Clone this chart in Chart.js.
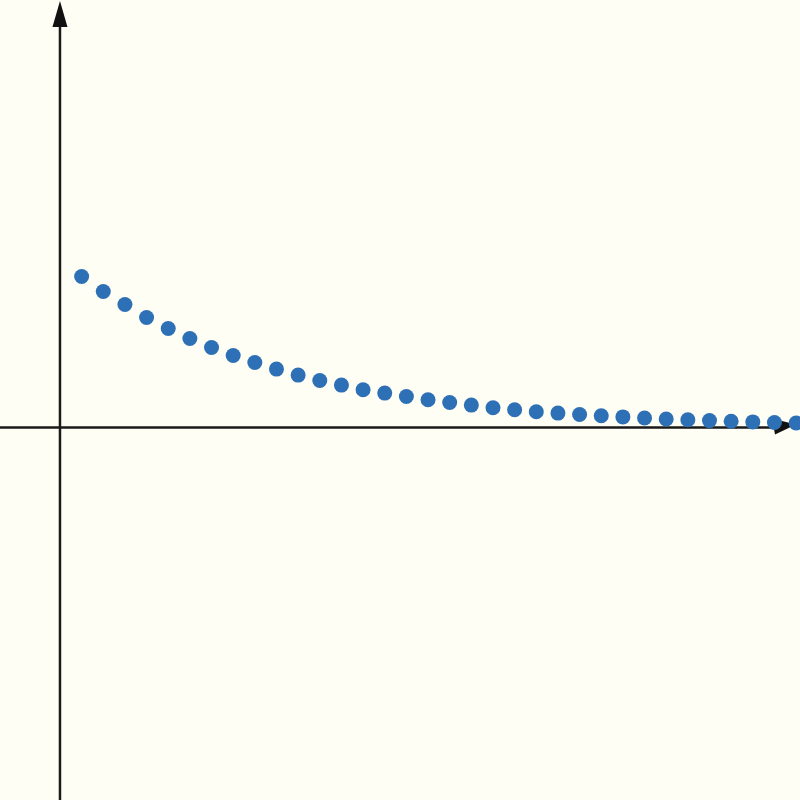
<!DOCTYPE html>
<html>
<head>
<meta charset="utf-8">
<script src="https://cdn.jsdelivr.net/npm/chart.js@4/dist/chart.umd.min.js"></script>
<style>
    html, body { margin: 0; padding: 0; background: #fffef4; }
    #wrap { width: 800px; height: 800px; }
</style>
</head>
<body>
<div id="wrap"><canvas id="seqChart" width="800" height="800"></canvas></div>
<script>
// term index n and value a(n)
const terms = [1, 2, 3, 4, 5, 6, 7, 8, 9, 10, 11, 12, 13, 14, 15, 16, 17,
    18, 19, 20, 21, 22, 23, 24, 25, 26, 27, 28, 29, 30, 31, 32, 33, 34];
const values = [1.51, 1.36, 1.23, 1.10, 0.99, 0.89, 0.80, 0.72, 0.65, 0.584,
    0.524, 0.47, 0.424, 0.377, 0.344, 0.31, 0.277, 0.25, 0.224, 0.197,
    0.177, 0.157, 0.144, 0.13, 0.117, 0.106, 0.095, 0.085, 0.077, 0.069,
    0.062, 0.056, 0.05, 0.045];

const xRange = [-2.77, 34.18];
const yRange = [-3.725, 4.275];

// draws the two axes with arrowheads
const arrowAxes = {
    id: "arrowAxes",
    beforeDatasetsDraw(chart) {
        const ctx = chart.ctx;
        const x0 = chart.scales.x.getPixelForValue(0);
        const y0 = chart.scales.y.getPixelForValue(0);
        ctx.save();
        ctx.strokeStyle = "#1a1a1a";
        ctx.fillStyle = "#111";
        ctx.lineWidth = 2.5;
        ctx.beginPath();
        ctx.moveTo(x0, 800);
        ctx.lineTo(x0, 20);
        ctx.moveTo(0, y0);
        ctx.lineTo(785, y0);
        ctx.stroke();

        // top arrowhead
        ctx.beginPath();
        ctx.moveTo(x0, 1);
        ctx.lineTo(x0 - 7.5, 27);
        ctx.lineTo(x0 + 7.5, 27);
        ctx.closePath();
        ctx.fill();

        // right arrowhead
        ctx.beginPath();
        ctx.moveTo(796, y0 - 3);
        ctx.lineTo(772, y0 - 9);
        ctx.lineTo(775, y0 + 7);
        ctx.closePath();
        ctx.fill();
        ctx.restore();
    },
};

new Chart(document.getElementById("seqChart"), {
    type: "scatter",
    data: {
        datasets: [{
            data: terms.map((n, i) => ({ x: n, y: values[i] })),
            backgroundColor: "#2e70b6",
            borderWidth: 0,
            pointRadius: 7.5,
            clip: false,
        }],
    },
    options: {
        responsive: false,
        devicePixelRatio: 1,
        animation: false,
        layout: { padding: 0, autoPadding: false },
        scales: {
            x: { type: "linear", min: xRange[0], max: xRange[1], display: false },
            y: { type: "linear", min: yRange[0], max: yRange[1], display: false },
        },
        plugins: {
            legend: { display: false },
            tooltip: { enabled: false },
        },
    },
    plugins: [arrowAxes],
});
</script>
</body>
</html>
